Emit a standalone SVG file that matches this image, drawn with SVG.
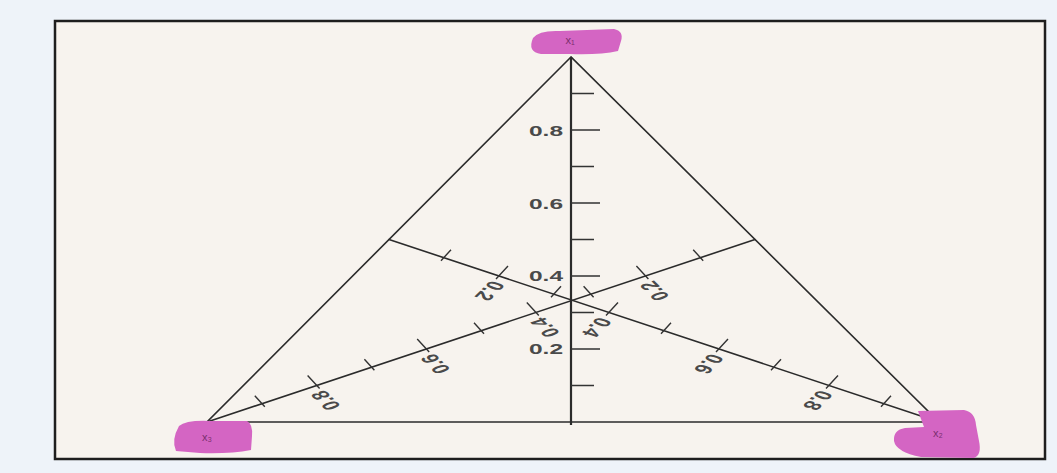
<svg xmlns="http://www.w3.org/2000/svg" width="1057" height="473" viewBox="0 0 1057 473">
  <style>
    .edge { fill: none; stroke: #2b2b2b; stroke-width: 1.6; stroke-linecap: round; }
    .axis { fill: none; stroke: #2b2b2b; stroke-width: 2.2; }
    .tick { fill: none; stroke: #333; stroke-width: 1.4; }
    .lbl { font-family: "Liberation Sans", Arial, sans-serif; font-size: 14px; font-weight: bold; fill: #4a4a4a; text-anchor: middle; dominant-baseline: central; }
    .blob { fill: #d465c3; }
    .vtx { font-family: "Liberation Sans", Arial, sans-serif; font-size: 11px; fill: #7a2f6e; text-anchor: middle; dominant-baseline: central; }
  </style>
  <rect x="0" y="0" width="1057" height="473" fill="#eef3f9"/>
  <rect id="frame" x="55" y="21" width="990" height="438" fill="#f7f3ee" stroke="#1e1e1e" stroke-width="2.5"/>

  <g id="connectors">
    <path id="triangle" class="edge" d="M571,57 L207,422 L939,422 Z"/>
    <line id="median-left" class="edge" x1="207" y1="422" x2="755" y2="239.5"/>
    <line id="median-right" class="edge" x1="939" y1="422" x2="389" y2="239.5"/>
    <line id="axis-vertical" class="axis" x1="571" y1="57" x2="571" y2="425"/>
  </g>

  <g id="axis-x1-scale">
    <path class="tick" d="M571,93.5 H594 M571,130 H600 M571,166.5 H594 M571,203 H600 M571,239.5 H594 M571,276 H600 M571,312.5 H594 M571,349 H600 M571,385.5 H594"/>
    <text class="lbl" transform="translate(546,131) scale(1.75,1)">0.8</text>
    <text class="lbl" transform="translate(546,204) scale(1.75,1)">0.6</text>
    <text class="lbl" transform="translate(546,276) scale(1.75,1)">0.4</text>
    <text class="lbl" transform="translate(546,349) scale(1.75,1)">0.2</text>
  </g>

  <g id="median-left-scale">
    <path class="tick" d="M264.8,406.7 l-10,-11 M319.6,388.5 l-12,-13 M374.4,370.2 l-10,-11 M429.2,352 l-12,-13 M484,333.7 l-10,-11 M538.8,315.5 l-12,-13 M593.6,297.2 l-10,-11 M648.4,279 l-12,-13 M703.2,260.7 l-10,-11"/>
    <text class="lbl" transform="translate(325.6,400.5) matrix(1.75,0,0,1,0,0) rotate(-120)">0.8</text>
    <text class="lbl" transform="translate(435.2,364) matrix(1.75,0,0,1,0,0) rotate(-120)">0.6</text>
    <text class="lbl" transform="translate(544.8,327.5) matrix(1.75,0,0,1,0,0) rotate(-120)">0.4</text>
    <text class="lbl" transform="translate(654.4,291) matrix(1.75,0,0,1,0,0) rotate(-120)">0.2</text>
  </g>

  <g id="median-right-scale">
    <path class="tick" d="M881,406.7 l10,-11 M826,388.5 l12,-13 M771,370.2 l10,-11 M716,352 l12,-13 M661,333.7 l10,-11 M606,315.5 l12,-13 M551,297.2 l10,-11 M496,279 l12,-13 M441,260.7 l10,-11"/>
    <text class="lbl" transform="translate(818,400.5) matrix(1.75,0,0,1,0,0) rotate(120)">0.8</text>
    <text class="lbl" transform="translate(709,364) matrix(1.75,0,0,1,0,0) rotate(120)">0.6</text>
    <text class="lbl" transform="translate(597,327.5) matrix(1.75,0,0,1,0,0) rotate(120)">0.4</text>
    <text class="lbl" transform="translate(490,291) matrix(1.75,0,0,1,0,0) rotate(120)">0.2</text>
  </g>

  <g id="vertex-x1">
    <path class="blob" d="M533,38 Q539,30 560,31 L614,29 Q624,31 621,41 L618,51 Q600,55 570,54 L541,54 Q527,52 533,38 Z"/>
    <text class="vtx" x="570" y="40">x₁</text>
  </g>
  <g id="vertex-x3">
    <path class="blob" d="M179,426 Q186,420 210,421 L247,421 Q253,424 252,436 L251,450 Q230,454 200,453 L176,451 Q171,440 179,426 Z"/>
    <text class="vtx" x="207" y="437">x₃</text>
  </g>
  <g id="vertex-x2">
    <path class="blob" d="M918,411 L964,410 Q975,412 976,425 L979,441 Q982,455 974,458 L921,457 Q896,452 894,441 Q893,430 905,428 L924,427 Z"/>
    <text class="vtx" x="938" y="433">x₂</text>
  </g>
</svg>
